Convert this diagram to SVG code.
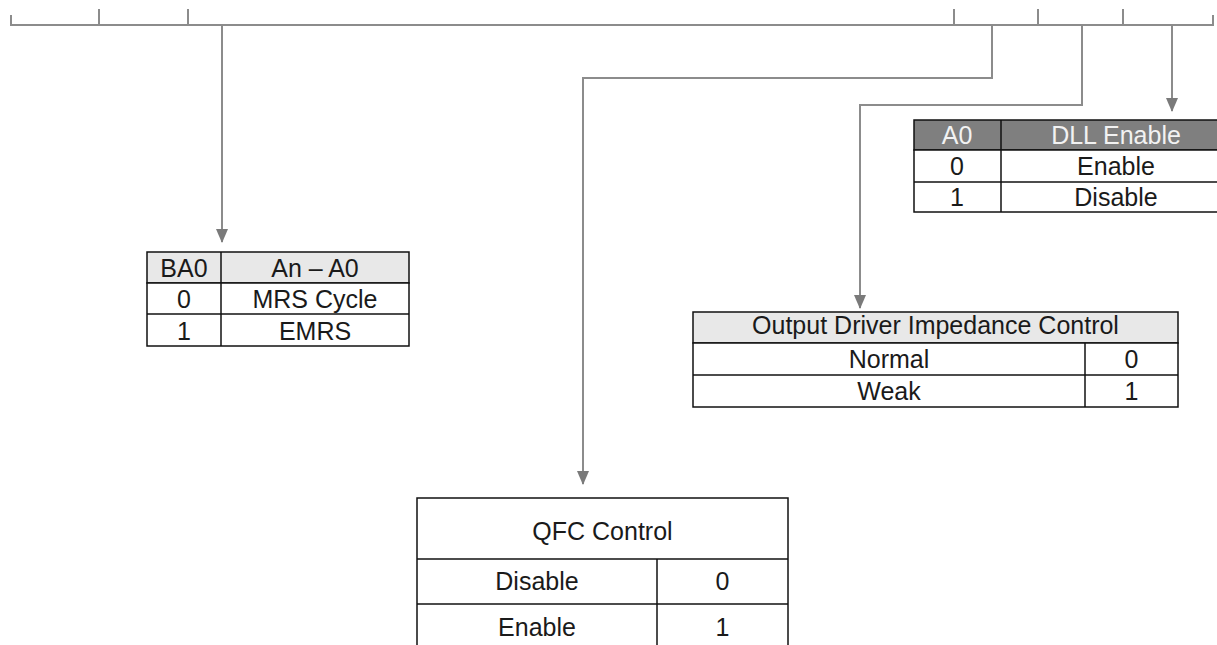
<svg xmlns="http://www.w3.org/2000/svg" width="1217" height="645" viewBox="0 0 1217 645">
<style>
.conn{fill:none;stroke:#8c8c8c;stroke-width:2}
.cell{fill:#fff;stroke:#111;stroke-width:1.5}
.hdr{fill:#e8e8e8;stroke:#111;stroke-width:1.5}
.dhdr{fill:#7f7f7f;stroke:#111;stroke-width:1.5}
.ln{stroke:#111;stroke-width:1.5}
text{font-family:"Liberation Sans",Arial,sans-serif;font-size:25px;fill:#1a1a1a;text-anchor:middle}
.wt{fill:#f2f2f2}
</style>
<defs>
<marker id="arr" markerWidth="14" markerHeight="12" refX="13" refY="6" orient="auto" markerUnits="userSpaceOnUse" viewBox="0 0 14 12">
<path d="M0,0 L14,6 L0,12 Z" fill="#7a7a7a"/>
</marker>
</defs>
<g id="connectors">
<path class="conn" d="M11,15 V25 H1213 V15"/>
<path class="conn" d="M99,9 V25 M188,9 V25 M954,9 V25 M1038,9 V25 M1123,9 V25"/>
<path class="conn" d="M222,25 V242" marker-end="url(#arr)"/>
<path class="conn" d="M992,25 V78 H583 V484" marker-end="url(#arr)"/>
<path class="conn" d="M1082,25 V105 H860 V308" marker-end="url(#arr)"/>
<path class="conn" d="M1172,25 V111" marker-end="url(#arr)"/>
</g>
<g id="dll-table">
<rect class="dhdr" x="914" y="120" width="320" height="30"/>
<rect class="cell" x="914" y="150" width="320" height="62"/>
<line class="ln" x1="914" y1="182" x2="1234" y2="182"/>
<line class="ln" x1="1001" y1="120" x2="1001" y2="212"/>
<text class="wt" x="957" y="144">A0</text>
<text class="wt" x="1116" y="144">DLL Enable</text>
<text x="957" y="175">0</text>
<text x="1116" y="175">Enable</text>
<text x="957" y="206">1</text>
<text x="1116" y="206">Disable</text>
</g>
<g id="ba0-table">
<rect class="hdr" x="147" y="252" width="262" height="31"/>
<rect class="cell" x="147" y="283" width="262" height="63"/>
<line class="ln" x1="147" y1="314" x2="409" y2="314"/>
<line class="ln" x1="221" y1="252" x2="221" y2="346"/>
<text x="184" y="277">BA0</text>
<text x="315" y="277">An – A0</text>
<text x="184" y="308">0</text>
<text x="315" y="308">MRS Cycle</text>
<text x="184" y="340">1</text>
<text x="315" y="340">EMRS</text>
</g>
<g id="odic-table">
<rect class="hdr" x="693" y="312" width="485" height="31"/>
<rect class="cell" x="693" y="343" width="485" height="64"/>
<line class="ln" x1="693" y1="375" x2="1178" y2="375"/>
<line class="ln" x1="1085" y1="343" x2="1085" y2="407"/>
<text x="935.5" y="334">Output Driver Impedance Control</text>
<text x="889" y="368">Normal</text>
<text x="1131.5" y="368">0</text>
<text x="889" y="400">Weak</text>
<text x="1131.5" y="400">1</text>
</g>
<g id="qfc-table">
<rect class="cell" x="417" y="498" width="371" height="160"/>
<line class="ln" x1="417" y1="559" x2="788" y2="559"/>
<line class="ln" x1="417" y1="604" x2="788" y2="604"/>
<line class="ln" x1="657" y1="559" x2="657" y2="658"/>
<text x="602.5" y="540">QFC Control</text>
<text x="537" y="590">Disable</text>
<text x="722.5" y="590">0</text>
<text x="537" y="636">Enable</text>
<text x="722.5" y="636">1</text>
</g>
</svg>
